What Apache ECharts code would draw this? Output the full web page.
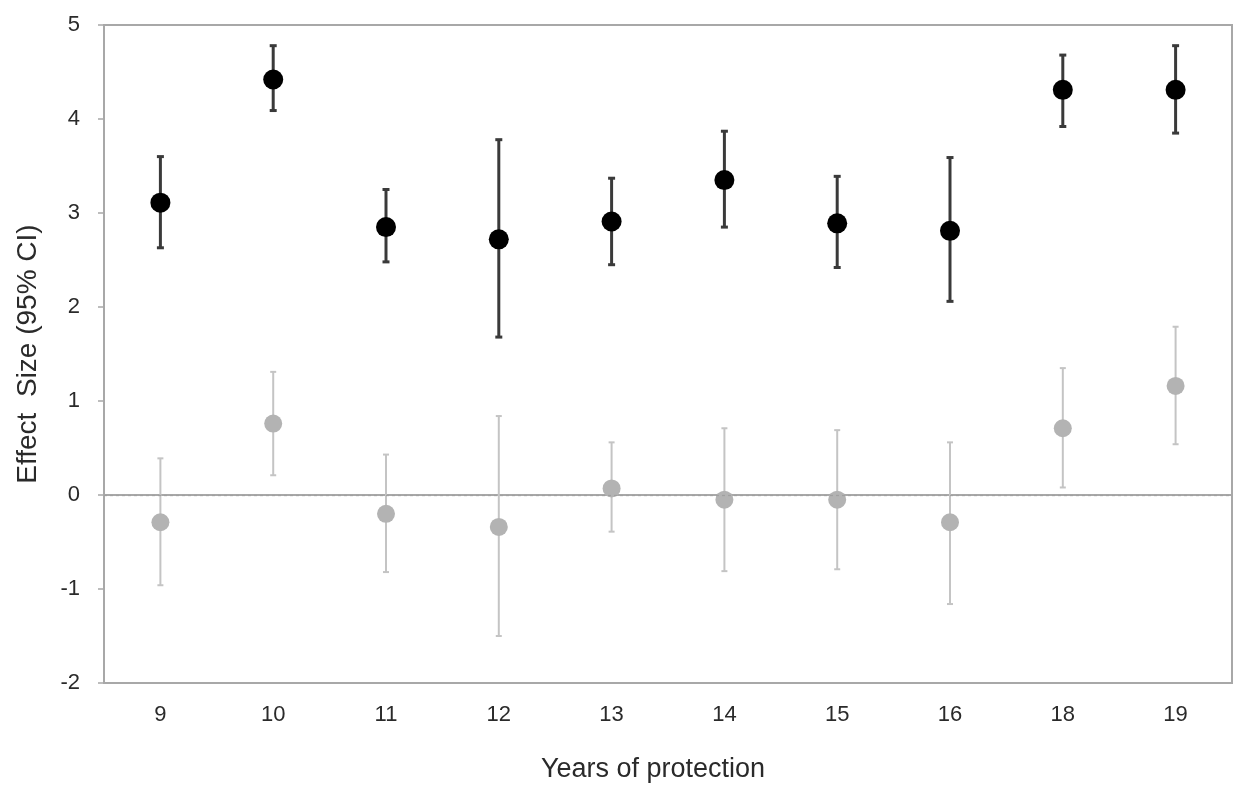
<!DOCTYPE html>
<html>
<head>
<meta charset="utf-8">
<script src="https://cdn.jsdelivr.net/npm/echarts@6/dist/echarts.min.js"></script>
<style>html,body{margin:0;padding:0;background:#fff}#c{width:1233px;height:792px}</style>
</head>
<body>
<div id="c"></div>
<script>
const categories = ['9','10','11','12','13','14','15','16','18','19'];
const protMean = [3.11,4.42,2.85,2.72,2.91,3.35,2.89,2.81,4.31,4.31];
const protLow  = [2.63,4.09,2.48,1.68,2.45,2.85,2.42,2.06,3.92,3.85];
const protHigh = [3.60,4.78,3.25,3.78,3.37,3.87,3.39,3.59,4.68,4.78];
const ctrlMean = [-0.29,0.76,-0.20,-0.34,0.07,-0.05,-0.05,-0.29,0.71,1.16];
const ctrlLow  = [-0.96,0.21,-0.82,-1.50,-0.39,-0.81,-0.79,-1.16,0.08,0.54];
const ctrlHigh = [0.39,1.31,0.43,0.84,0.56,0.71,0.69,0.56,1.35,1.79];
const yTicks = {min:-2, max:5, interval:1};

function errBar(color, width, cap) {
  return function (params, api) {
    const x = api.value(0);
    const lo = api.coord([x, api.value(1)]);
    const hi = api.coord([x, api.value(2)]);
    const st = {stroke: color, lineWidth: width};
    return {type:'group', children:[
      {type:'line', shape:{x1:lo[0],y1:lo[1],x2:hi[0],y2:hi[1]}, style:st},
      {type:'line', shape:{x1:lo[0]-cap,y1:lo[1],x2:lo[0]+cap,y2:lo[1]}, style:st},
      {type:'line', shape:{x1:hi[0]-cap,y1:hi[1],x2:hi[0]+cap,y2:hi[1]}, style:st}
    ]};
  };
}

const chart = echarts.init(document.getElementById('c'));
const axisGray = '#a8a8a8';
const FONT = 'Liberation Sans, Arial, sans-serif';
const txt = {color:'#2a2a2a', fontFamily:FONT, fontSize:22};
chart.setOption({
  animation:false,
  grid:{left:104, right:1, top:25, bottom:109, show:true, borderColor:axisGray, borderWidth:2},
  xAxis:{type:'category', data:categories, boundaryGap:true,
    axisLine:{lineStyle:{color:axisGray, width:2}},
    axisTick:{alignWithLabel:true, length:5, lineStyle:{color:axisGray, width:1.5}},
    axisLabel:Object.assign({margin:21}, txt),
    splitLine:{show:false},
    name:'Years of protection', nameLocation:'middle', nameGap:73,
    nameTextStyle:{color:'#2a2a2a', fontFamily:FONT, fontSize:27, padding:[0,30,0,0]}
  },
  yAxis:{type:'value', min:yTicks.min, max:yTicks.max, interval:yTicks.interval,
    axisLine:{show:true, lineStyle:{color:axisGray, width:2}},
    axisTick:{show:true, length:6, lineStyle:{color:axisGray, width:1.5}},
    axisLabel:Object.assign({margin:24}, txt),
    splitLine:{show:false},
    name:'Effect  Size (95% CI)', nameLocation:'middle', nameGap:62, nameRotate:90,
    nameTextStyle:{color:'#2a2a2a', fontFamily:FONT, fontSize:28}
  },
  series:[
    {type:'custom', renderItem:errBar('#c4c4c4', 2, 3), z:2,
     data:categories.map((c,i)=>[i, ctrlLow[i], ctrlHigh[i]]), encode:{x:0, y:[1,2]}},
    {type:'scatter', symbolSize:18, itemStyle:{color:'#b3b3b3', opacity:1}, z:3,
     data:categories.map((c,i)=>[i, ctrlMean[i]]),
     markLine:{silent:true, symbol:'none', label:{show:false},
       lineStyle:{color:'#a0a0a0', type:[3,3], width:1.3},
       data:[{yAxis:0}]}},
    {type:'custom', renderItem:errBar('#3a3a3a', 3, 3.5), z:4,
     data:categories.map((c,i)=>[i, protLow[i], protHigh[i]]), encode:{x:0, y:[1,2]}},
    {type:'scatter', symbolSize:20, itemStyle:{color:'#000', opacity:1}, z:5,
     data:categories.map((c,i)=>[i, protMean[i]])}
  ]
});
</script>
</body>
</html>
